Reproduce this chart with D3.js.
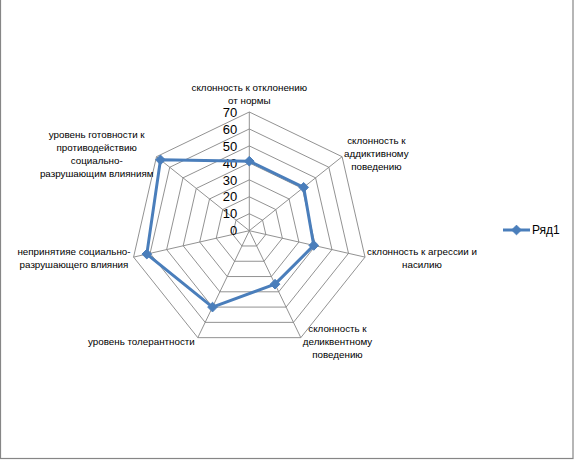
<!DOCTYPE html>
<html><head><meta charset="utf-8">
<script src="https://cdn.jsdelivr.net/npm/d3@7"></script>
<style>html,body{margin:0;padding:0;background:#fff;}svg{display:block;}</style>
</head><body>
<svg id="c" width="574" height="460"></svg>
<script>
const categories = [
  "склонность к отклонению\nот нормы",
  "склонность к\nаддиктивному\nповедению",
  "склонность к агрессии и\nнасилию",
  "склонность к\nделиквентному\nповедению",
  "уровень толерантности",
  "непринятияе социально-\nразрушающего влияния",
  "уровень готовности к\nпротиводействию\nсоциально-\nразрушающим влияниям"
];
const values = [41, 41, 39, 35, 50, 62, 67];
const ticks = [0, 10, 20, 30, 40, 50, 60, 70];
const seriesName = "Ряд1";

const svg = d3.select("#c");
const cx = 249.3, cy = 230.7, R = 118.7;
const font = "'Liberation Sans', Arial, sans-serif";
const gridColor = "#868686";
const lineColor = "#4A7EBB";

// outer border
svg.append("rect").attr("x", 0.5).attr("y", -2).attr("width", 572.5).attr("height", 460.5)
  .attr("fill", "none").attr("stroke", gridColor).attr("stroke-width", 1.2);

const r = d3.scaleLinear().domain([0, 70]).range([0, R]);
const n = categories.length;
const ang = d3.scaleLinear().domain([0, n]).range([0, 2 * Math.PI]);
const pt = (i, v) => [cx + r(v) * Math.sin(ang(i)), cy - r(v) * Math.cos(ang(i))];

const g = svg.append("g");
// rings
ticks.filter(t => t > 0).forEach(t => {
  g.append("path")
    .attr("d", d3.line()(d3.range(n).map(i => pt(i, t))) + "Z")
    .attr("fill", "none").attr("stroke", gridColor).attr("stroke-width", 0.9);
});
// spokes
d3.range(n).forEach(i => {
  const p = pt(i, 70);
  g.append("line").attr("x1", cx).attr("y1", cy).attr("x2", p[0]).attr("y2", p[1])
    .attr("stroke", gridColor).attr("stroke-width", 0.9);
});
// tick labels
ticks.forEach(t => {
  g.append("text").attr("x", cx - 12).attr("y", cy - r(t)).attr("dy", "0.36em")
    .attr("text-anchor", "end").attr("font-family", font).attr("font-size", 13)
    .attr("fill", "#000").text(t);
});
// category labels (lines centred within their block)
categories.forEach((c, i) => {
  const lines = c.split("\n");
  const p = pt(i, 70);
  const s = Math.sin(ang(i)), co = Math.cos(ang(i));
  const lh = 13;
  const h = lines.length * lh;
  const txt = g.append("text").attr("text-anchor", "middle").attr("font-family", font)
    .attr("font-size", 9.8).attr("fill", "#000");
  const spans = lines.map(l => txt.append("tspan").text(l));
  const w = d3.max(spans, sp => sp.node().getComputedTextLength());
  let xc = p[0];
  if (s > 0.1) xc = p[0] + 2 + w / 2;
  else if (s < -0.1) xc = p[0] - 3 - w / 2;
  let yc;
  if (co > 0.9) yc = p[1] - h / 2 - 5;
  else if (co < -0.5) yc = p[1] + 3.5;
  else if (co > 0.5) yc = p[1] - 3;
  else yc = p[1] + 0.5;
  const y0 = yc - h / 2 + lh / 2;
  spans.forEach((sp, k) => sp.attr("x", xc).attr("y", y0 + k * lh).attr("dy", "0.35em"));
});
// series
const pts = values.map((v, i) => pt(i, v));
g.append("path").attr("d", d3.line()(pts) + "Z").attr("fill", "none")
  .attr("stroke", lineColor).attr("stroke-width", 3).attr("stroke-linejoin", "round");
const diamond = d3.symbol().type(d3.symbolDiamond2).size(60);
g.selectAll(".m").data(pts).join("path").attr("class", "m")
  .attr("transform", d => `translate(${d[0]},${d[1]})`).attr("d", diamond)
  .attr("fill", lineColor).attr("stroke", lineColor);

// legend
const lg = svg.append("g").attr("transform", "translate(503,230)");
lg.append("line").attr("x1", 0).attr("x2", 27).attr("y1", 0).attr("y2", 0)
  .attr("stroke", lineColor).attr("stroke-width", 3);
lg.append("path").attr("transform", "translate(13.5,0)").attr("d", diamond)
  .attr("fill", lineColor).attr("stroke", lineColor);
lg.append("text").attr("x", 29).attr("y", 0).attr("dy", "0.36em")
  .attr("font-family", font).attr("font-size", 12).attr("fill", "#000").text(seriesName);
</script>
</body></html>
